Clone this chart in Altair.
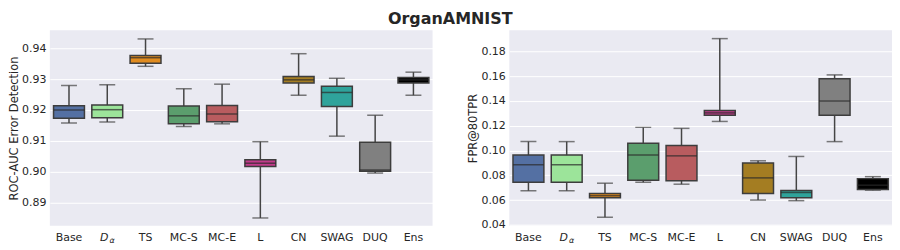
import altair as alt
import pandas as pd

methods = ["Base", "Dα", "TS", "MC-S", "MC-E", "L", "CN", "SWAG", "DUQ", "Ens"]
colors = ["#5470a3", "#9ce49a", "#e08b1f", "#5b9e6d", "#b85c5f",
          "#c23b8b", "#a47d22", "#2fa39b", "#808080", "#000000"]

# ROC-AUC Error Detection
auc_low = [0.9158, 0.9161, 0.9342, 0.9146, 0.9155, 0.8849, 0.9248, 0.9115, 0.8995, 0.9248]
auc_q1 = [0.9173, 0.9175, 0.9352, 0.9155, 0.9162, 0.9016, 0.9288, 0.9211, 0.9001, 0.9288]
auc_med = [0.9200, 0.9201, 0.9370, 0.9181, 0.9187, 0.9027, 0.9298, 0.9257, 0.9005, 0.9298]
auc_q3 = [0.9214, 0.9216, 0.9377, 0.9213, 0.9215, 0.9038, 0.9309, 0.9277, 0.9095, 0.9306]
auc_high = [0.9280, 0.9282, 0.9431, 0.9269, 0.9284, 0.9097, 0.9383, 0.9303, 0.9183, 0.9323]

# FPR@80TPR
fpr_low = [0.0675, 0.0675, 0.0461, 0.0744, 0.0728, 0.1235, 0.0600, 0.0595, 0.1072, 0.0680]
fpr_q1 = [0.0744, 0.0744, 0.0619, 0.0760, 0.0755, 0.1285, 0.0653, 0.0619, 0.1285, 0.0685]
fpr_med = [0.0885, 0.0885, 0.0635, 0.0963, 0.0957, 0.1304, 0.0779, 0.0661, 0.1400, 0.0720]
fpr_q3 = [0.0963, 0.0963, 0.0653, 0.1059, 0.1040, 0.1323, 0.0899, 0.0677, 0.1579, 0.0773]
fpr_high = [0.1072, 0.1072, 0.0736, 0.1187, 0.1179, 0.1904, 0.0917, 0.0952, 0.1611, 0.0789]

auc_ticks = [0.89, 0.90, 0.91, 0.92, 0.93, 0.94]
fpr_ticks = [0.04, 0.06, 0.08, 0.10, 0.12, 0.14, 0.16, 0.18]

W, H = 384, 196
BOX = 31
CAP = 16
FONT = "DejaVu Sans"
XLP = 6


def panel(low, q1, med, q3, high, domain, ticks, ytitle):
    df = pd.DataFrame({"method": methods, "low": low, "q1": q1, "med": med,
                       "q3": q3, "high": high})
    x = alt.X("method:N", sort=methods, title=None,
              scale=alt.Scale(paddingInner=0, paddingOuter=0),
              axis=alt.Axis(labelAngle=0, labelPadding=XLP,
                            labelExpr="datum.value == 'Dα' ? '' : datum.value"))
    yscale = alt.Scale(domain=domain, nice=False, zero=False)
    yaxis = alt.Axis(values=ticks, format=".2f", titlePadding=2,
                     labelOverlap=False, labelPadding=4)

    def Y(field):
        return alt.Y(field, type="quantitative", scale=yscale, title=ytitle, axis=yaxis)

    base = alt.Chart(df)
    whisk = base.mark_rule(color="#454545", strokeWidth=1.5).encode(
        x=x, y=Y("low"), y2="high:Q")
    box = base.mark_bar(size=BOX, stroke="#3d3d3d", strokeWidth=1.5).encode(
        x=x, y=Y("q1"), y2="q3:Q",
        color=alt.Color("method:N", scale=alt.Scale(domain=methods, range=colors),
                        legend=None))
    med_t = base.mark_tick(size=BOX, thickness=1.5, color="#2b2b2b").encode(
        x=x, y=Y("med"))
    cap_lo = base.mark_tick(size=CAP, thickness=1.5, color="#454545").encode(
        x=x, y=Y("low"))
    cap_hi = base.mark_tick(size=CAP, thickness=1.5, color="#454545").encode(
        x=x, y=Y("high"))
    lab = pd.DataFrame({"method": ["Dα"]})
    d_txt = alt.Chart(lab).mark_text(text="D", font=FONT, fontSize=11,
                                     fontStyle="italic", baseline="top",
                                     dx=-3, color="#262626").encode(
        x=x, y=alt.value(H + XLP))
    a_txt = alt.Chart(lab).mark_text(text="α", font=FONT, fontSize=8,
                                     fontStyle="italic", baseline="top",
                                     dx=5, dy=5, color="#262626").encode(
        x=x, y=alt.value(H + XLP))
    return alt.layer(whisk, box, med_t, cap_lo, cap_hi, d_txt, a_txt).properties(
        width=W, height=H)


left = panel(auc_low, auc_q1, auc_med, auc_q3, auc_high,
             [0.8824, 0.9459], auc_ticks, "ROC-AUC Error Detection")
right = panel(fpr_low, fpr_q1, fpr_med, fpr_q3, fpr_high,
              [0.0393, 0.1971], fpr_ticks, "FPR@80TPR")

chart = alt.hconcat(left, right, spacing=35).properties(
    padding={"left": 0, "top": 3, "right": 0, "bottom": 0},
    title=alt.TitleParams("OrganAMNIST", fontSize=16, fontWeight="bold",
                          font=FONT, anchor="middle", color="#262626", offset=3)
).configure_view(fill="#eaeaf2", stroke=None).configure_axis(
    grid=True, gridColor="white", gridWidth=1, domain=False, ticks=False,
    labelFont=FONT, titleFont=FONT, labelFontSize=11, titleFontSize=11.5,
    labelColor="#262626", titleColor="#262626", titleFontWeight="normal"
).configure_axisX(grid=False)

chart.save("out.html", embed_options={"renderer": "svg", "actions": False})
